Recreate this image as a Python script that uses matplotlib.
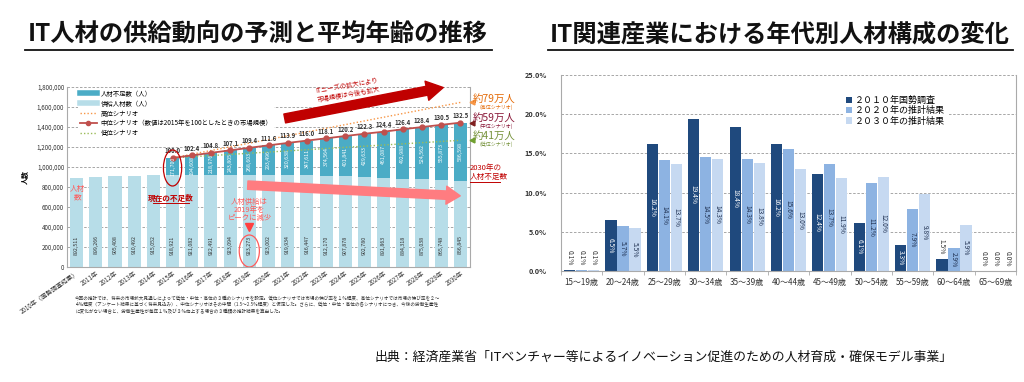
import matplotlib
matplotlib.use("Agg")
import matplotlib.pyplot as plt
from matplotlib.lines import Line2D
from matplotlib.patches import FancyArrowPatch, Ellipse
import numpy as np

plt.rcParams['font.family'] = ['Noto Sans CJK JP', 'DejaVu Sans']

# ---------------- data: left chart ----------------
years = ["2010年（国勢調査結果）"] + [f"{y}年" for y in range(2011, 2031)]
supply = [892511, 899266, 905408, 910492, 915052, 918921, 921082, 922491, 923094, 923273,
          923002, 919934, 916447, 912170, 907878, 902780, 891863, 884318, 875038, 865748, 856845]
shortage = [0, 0, 0, 0, 0, 171700, 194608, 218976, 243805, 268603,
            293496, 320638, 347611, 374564, 401841, 429633, 461087, 492988, 524562, 555873, 586598]
market_index = [100.0, 102.4, 104.8, 107.1, 109.4, 111.6, 113.9, 116.0, 118.1, 120.2,
                122.3, 124.4, 126.4, 128.4, 130.5, 132.5]
high_years = [5, 20]
high_values = [1090621, 1645845]
low_years = [5, 20]
low_values = [1090621, 1267000]
y_ticks_left = [0, 200000, 400000, 600000, 800000, 1000000, 1200000, 1400000, 1600000, 1800000]

# ---------------- data: right chart ----------------
age_groups = ["15～19歳", "20～24歳", "25～29歳", "30～34歳", "35～39歳", "40～44歳",
              "45～49歳", "50～54歳", "55～59歳", "60～64歳", "65～69歳"]
share_2010 = [0.1, 6.5, 16.2, 19.4, 18.4, 16.2, 12.4, 6.1, 3.3, 1.5, 0.0]
share_2020 = [0.1, 5.7, 14.1, 14.5, 14.3, 15.6, 13.7, 11.2, 7.9, 2.9, 0.0]
share_2030 = [0.1, 5.5, 13.7, 14.3, 13.8, 13.0, 11.9, 12.0, 9.8, 5.9, 0.0]
series_names = ["２０１０年国勢調査", "２０２０年の推計結果", "２０３０年の推計結果"]

W, H = 1024, 382
fig = plt.figure(figsize=(W / 100, H / 100), dpi=100)

def fx(px):
    return px / W

def fy(py):
    return 1 - py / H

# ---------------- titles ----------------
for txt, cx, x0, x1 in [("IT人材の供給動向の予測と平均年齢の推移", 258, 25, 492),
                        ("IT関連産業における年代別人材構成の変化", 780, 548, 1013)]:
    fig.text(fx(cx), fy(35), txt, ha='center', va='center', fontsize=17.5, fontweight='bold', color='#111111')
    fig.add_artist(Line2D([fx(x0), fx(x1)], [fy(50), fy(50)], color='#111111', lw=1.3))

# ---------------- left chart ----------------
teal = '#4bacc6'
light = '#b7dde8'
red = '#c0504d'
orange = '#f79646'
green = '#9bbb59'

axL = fig.add_axes([fx(67), fy(267), fx(470) - fx(67), (267 - 87) / H])
x = np.arange(len(years))
bw = 0.68
axL.bar(x, supply, bw, color=light, zorder=2)
axL.bar(x, shortage, bw, bottom=supply, color=teal, zorder=2)
total = [s + d for s, d in zip(supply, shortage)]

xm = x[5:]
tm = total[5:]
axL.plot(high_years, high_values, color=orange, lw=1.0, ls=(0, (1, 1.5)), zorder=3)
axL.plot(low_years, low_values, color=green, lw=1.0, ls=(0, (1, 1.5)), zorder=3)
axL.plot(xm, tm, color=red, lw=1.3, marker='o', ms=3.5, zorder=4)

for xi, t, v in zip(xm, tm, market_index):
    axL.text(xi, t + 35000, f"{v:.1f}", ha='center', va='bottom', fontsize=4.3,
             color='#333333', fontweight='bold', zorder=5)
for xi, s in zip(x, supply):
    axL.text(xi, 220000, f"{s:,}", rotation=90, ha='center', va='center', fontsize=3.8,
             color='#333333', zorder=5)
for xi, s, d in zip(x, supply, shortage):
    if d > 0:
        axL.text(xi, s + d / 2, f"{d:,}", rotation=90, ha='center', va='center', fontsize=3.8,
                 color='white', zorder=5)

axL.set_xlim(-0.5, 20.5)
axL.set_ylim(0, 1800000)
axL.set_yticks(y_ticks_left)
axL.set_yticklabels([f"{v:,}" for v in y_ticks_left], fontsize=4.5, color='#333333')
axL.set_xticks(x)
axL.set_xticklabels(years, rotation=35, ha='right', rotation_mode='anchor', fontsize=4.5, color='#333333')
axL.tick_params(axis='both', length=0, pad=2)
axL.grid(axis='y', color='#999999', ls=(0, (3, 2)), lw=0.6, zorder=0)
axL.set_axisbelow(True)
axL.spines['top'].set_visible(False)
for sp in ['left', 'bottom', 'right']:
    axL.spines[sp].set_color('#aaaaaa')
    axL.spines[sp].set_linewidth(0.8)
axL.set_ylabel("人数", fontsize=5, fontweight='bold', labelpad=6)

handles = [Line2D([], [], color=teal, lw=4),
           Line2D([], [], color=light, lw=4),
           Line2D([], [], color=orange, lw=1.0, ls=(0, (1, 1.5))),
           Line2D([], [], color=red, lw=1.3, marker='o', ms=3),
           Line2D([], [], color=green, lw=1.0, ls=(0, (1, 1.5)))]
labels = ["人材不足数（人）", "供給人材数（人）", "高位シナリオ",
          "中位シナリオ（数値は2015年を100としたときの市場規模）", "低位シナリオ"]
legL = axL.legend(handles, labels, loc='upper left', bbox_to_anchor=(0.02, 1.01), fontsize=4.6,
                  frameon=True, framealpha=1, edgecolor='none', handlelength=2.8,
                  handletextpad=0.5, labelspacing=0.3, borderpad=0.2)
legL.set_zorder(4.5)

# annotations left chart
axL.add_patch(Ellipse((5, 990000), 0.95, 360000, fill=False, edgecolor='#c00000', lw=0.9, zorder=6))
axL.text(4.9, 690000, "現在の不足数", ha='center', va='center', fontsize=5.5, color='#c00000',
         fontweight='bold', zorder=6)
axL.plot([4.0, 5.85], [640000, 640000], color='#c00000', lw=0.7, zorder=6)
axL.text(0.05, 740000, "人材\n数", ha='center', va='center', fontsize=5.5, color='#ff5a5a', zorder=6,
         linespacing=1.0)
axL.add_patch(Ellipse((9, 160000), 1.05, 320000, fill=False, edgecolor='#ff5a5a', lw=0.9, zorder=6))
axL.plot([9], [400000], marker='v', color='#ff4040', ms=6, zorder=6)
axL.text(9, 570000, "人材供給は\n2019年を\nピークに減少", ha='center', va='center', fontsize=5.3,
         color='#ff5a5a', zorder=6, linespacing=1.0)

for yv, col in [(1645845, orange), (1443443, '#7f2020'), (1267000, '#70a030')]:
    axL.plot([20.62], [yv], marker='<', color=col, ms=3.5, clip_on=False, zorder=6)

# right-side labels of left chart
fig.text(fx(473), fy(99), "約79万人", ha='left', va='center', fontsize=7.5, color='#e46c0a')
fig.text(fx(480), fy(107), "(高位シナリオ)", ha='left', va='center', fontsize=3.6, color='#e46c0a')
fig.text(fx(473), fy(118), "約59万人", ha='left', va='center', fontsize=7.5, color='#8b1a3a')
fig.text(fx(480), fy(126), "(中位シナリオ)", ha='left', va='center', fontsize=3.6, color='#8b1a3a')
fig.text(fx(473), fy(136), "約41万人", ha='left', va='center', fontsize=7.5, color='#77933c')
fig.text(fx(480), fy(144), "(低位シナリオ)", ha='left', va='center', fontsize=3.6, color='#77933c')
fig.text(fx(470), fy(168), "2030年の", ha='left', va='center', fontsize=5.5, color='#c00000')
fig.text(fx(470), fy(177), "人材不足数", ha='left', va='center', fontsize=5.5, color='#c00000')
fig.add_artist(Line2D([fx(470), fx(500)], [fy(182), fy(182)], color='#c00000', lw=0.7))

# big arrows
fig.add_artist(FancyArrowPatch((fx(282), fy(119)), (fx(446), fy(87)),
                               arrowstyle='simple,head_width=14,head_length=12,tail_width=6.5',
                               mutation_scale=1, color='#c00000', transform=fig.transFigure, zorder=7))
fig.add_artist(FancyArrowPatch((fx(245), fy(185)), (fx(463), fy(196)),
                               arrowstyle='simple,head_width=13,head_length=10,tail_width=6',
                               mutation_scale=1, color='#ff7c80', transform=fig.transFigure, zorder=7))
fig.text(fx(348), fy(90), "ITニーズの拡大により\n市場規模は今後も拡大", ha='center', va='center',
         fontsize=4.6, color='#c00000', rotation=10, linespacing=1.1, zorder=8)

note = ("今回の推計では、将来の市場拡大見通しによって低位・中位・高位の３種のシナリオを設定。低位シナリオでは市場の伸び率を１％程度、高位シナリオでは市場の伸び率を２～\n"
        "４％程度（アンケート結果に基づく将来見込み）、中位シナリオはその中間（1.5～2.5％程度）と仮定した。さらに、低位・中位・高位の各シナリオにつき、今後の労働生産性\n"
        "に変化がない場合と、労働生産性が毎年１％及び３％向上する場合の３種類の推計結果を算出した。")
fig.text(fx(75), fy(296), note, ha='left', va='top', fontsize=3.3, color='#333333', linespacing=1.3)

# ---------------- right chart ----------------
c1, c2, c3 = '#1f497d', '#8db3e2', '#c6d9f1'
axR = fig.add_axes([fx(561), fy(271), fx(1016) - fx(561), (271 - 75) / H])
xr = np.arange(len(age_groups))
step = 0.29
w = 0.27
for off, vals, col, name, tcol in [(-step, share_2010, c1, series_names[0], 'white'),
                                   (0, share_2020, c2, series_names[1], '#1f3050'),
                                   (step, share_2030, c3, series_names[2], '#1f3050')]:
    axR.bar(xr + off, vals, w, color=col, label=name, zorder=2)
    for xi, v in zip(xr, vals):
        if v < 2:
            axR.text(xi + off, v + 1.6, f"{v:.1f}%", rotation=270, ha='center', va='center',
                     fontsize=4.8, color='#333333', zorder=4)
        else:
            axR.text(xi + off, v / 2, f"{v:.1f}%", rotation=270, ha='center', va='center',
                     fontsize=4.8, color=tcol, zorder=4)

axR.set_xlim(-0.5, 10.5)
axR.set_ylim(0, 25)
axR.set_yticks([0, 5, 10, 15, 20, 25])
axR.set_yticklabels([f"{v:.1f}%" for v in [0, 5, 10, 15, 20, 25]], fontsize=5.2, color='#333333',
                    fontweight='bold')
axR.set_xticks(xr)
axR.set_xticklabels(age_groups, fontsize=5.8, color='#333333')
axR.set_xticks(np.arange(-0.5, 10.6, 1), minor=True)
axR.tick_params(axis='x', which='major', length=0, pad=5)
axR.tick_params(axis='x', which='minor', length=3, color='#aaaaaa')
axR.tick_params(axis='y', length=0, pad=10)
axR.grid(axis='y', color='#999999', ls=(0, (3, 2)), lw=0.6, zorder=0)
axR.set_axisbelow(True)
axR.spines['top'].set_visible(False)
for sp in ['left', 'bottom', 'right']:
    axR.spines[sp].set_color('#aaaaaa')
    axR.spines[sp].set_linewidth(0.8)
legR = axR.legend(loc='upper left', bbox_to_anchor=(0.61, 0.93), fontsize=6.5, frameon=True,
                  framealpha=1, edgecolor='none', handlelength=0.7, handleheight=0.7,
                  handletextpad=0.3, labelspacing=0.15, borderpad=0.3)

# ---------------- source ----------------
fig.text(fx(375), fy(357), "出典：経済産業省「ITベンチャー等によるイノベーション促進のための人材育成・確保モデル事業」",
         ha='left', va='center', fontsize=9.3, color='#111111')

fig.savefig("out.png", dpi=100, facecolor='white')
